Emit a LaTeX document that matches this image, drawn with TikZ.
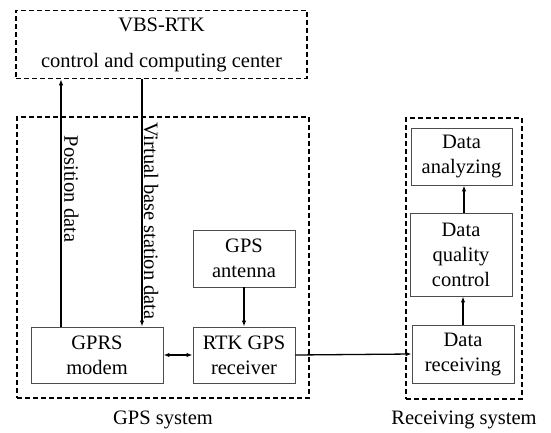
\documentclass[tikz,border=0pt]{standalone}
\usepackage{fontspec}
\setmainfont{Liberation Serif}
\usetikzlibrary{arrows.meta}
\begin{document}
\begin{tikzpicture}[x=1pt,y=-1pt,
  every node/.style={font=\fontsize{20.5}{25}\selectfont, inner sep=0pt, align=center},
  sysbox/.style={draw=black, line width=1.6pt, dash pattern=on 5pt off 3pt},
  unit/.style={draw=black!70, line width=0.9pt},
  flow/.style={line width=1.3pt, -{Latex[length=6pt,width=4.5pt]}},
  both/.style={line width=1.3pt, {Latex[length=6pt,width=4.5pt]}-{Latex[length=6pt,width=4.5pt]}}
]
\useasboundingbox (0,0) rectangle (551,433);

% system frames
\node[sysbox, minimum width=291pt, minimum height=68pt,
      font=\fontsize{20.5}{36}\selectfont] (center) at (161.5,44.5)
      {VBS-RTK\\control and computing center};
\node[sysbox, minimum width=292pt, minimum height=281pt] (gpssys) at (163,257.5) {};
\node[sysbox, minimum width=116pt, minimum height=281pt] (recsys) at (464,258.5) {};

% GPS system units
\node[unit, minimum width=132pt, minimum height=56pt] (gprs) at (97,355) {GPRS\\modem};
\node[unit, minimum width=102pt, minimum height=56pt] (rtk) at (244,355) {RTK GPS\\receiver};
\node[unit, minimum width=102pt, minimum height=57pt] (ant) at (244,258.5) {GPS\\antenna};

% receiving system units
\node[unit, minimum width=101pt, minimum height=57pt] (ana) at (461.5,156.5) {Data\\analyzing};
\node[unit, minimum width=102pt, minimum height=83pt] (qual) at (461,254.5) {Data\\quality\\control};
\node[unit, minimum width=102pt, minimum height=58pt] (recv) at (463,354) {Data\\receiving};

% links to the computing center
\coordinate (posx) at (61,0);
\coordinate (vbsx) at (142,0);
\draw[flow] (posx |- gprs.north) -- (posx |- center.south);
\draw[flow] (vbsx |- center.south) -- (vbsx |- gprs.north);
\node[rotate=-90] (poslbl) at (71.5,189) {Position data};
\node[rotate=-90] (vbslbl) at (151,221) {Virtual base station data};

% data flow
\draw[flow] (ant) -- (rtk);
\draw[both] (gprs.east) -- (rtk.west);
\draw[flow] (rtk.east) -- (recv.west);
\draw[flow] (recv.north -| 463,0) -- (qual.south -| 463,0);
\draw[flow] (qual.north -| 464,0) -- (ana.south -| 464,0);

% frame captions
\node[anchor=base] (gpscap) at (163,424) {GPS system};
\node[anchor=base] (reccap) at (464,424) {Receiving system};
\end{tikzpicture}
\end{document}
